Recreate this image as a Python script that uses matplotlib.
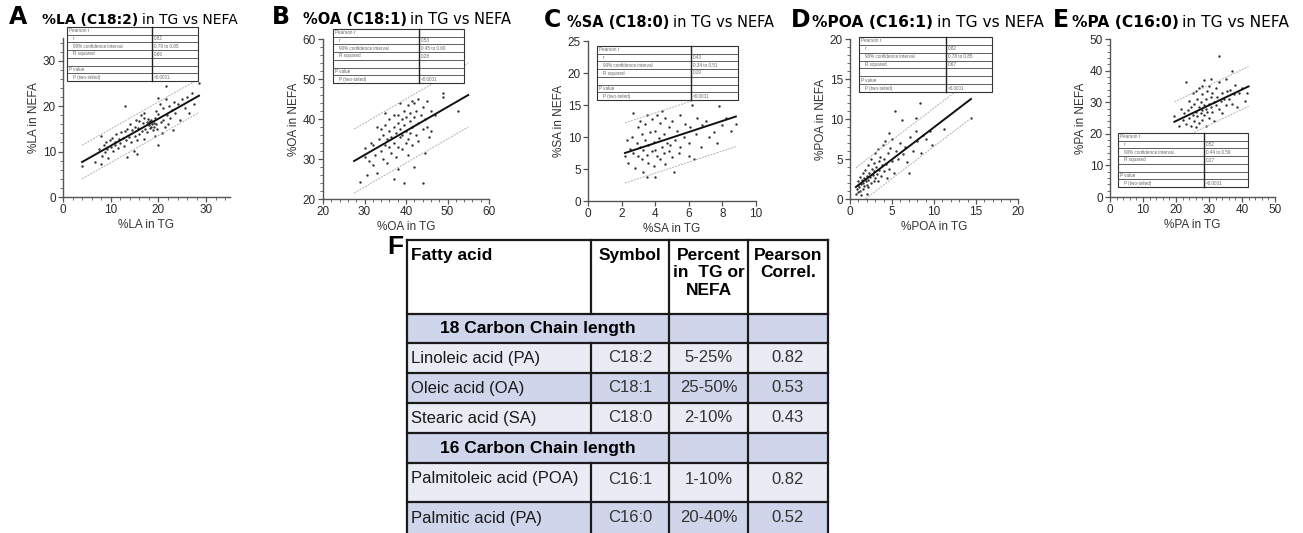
import matplotlib.pyplot as plt
from matplotlib.patches import Rectangle
from matplotlib.ticker import MultipleLocator

plt.rcParams['font.family'] = ['Liberation Sans', 'DejaVu Sans']

# ---- panel A : linoleic acid (approximate)
la_x = [4.0, 6.8, 7.5, 8.0, 8.2, 8.5, 8.8, 9.0, 9.2, 9.5, 9.8, 10.0, 10.3, 10.5, 10.8, 11.0,
        11.2, 11.5, 11.8, 12.0, 12.2, 12.5, 12.8, 13.0, 13.2, 13.5, 13.5, 13.8, 14.0, 14.2,
        14.5, 14.8, 15.0, 15.0, 15.3, 15.5, 15.8, 16.0, 16.0, 16.3, 16.5, 16.8, 17.0, 17.0,
        17.2, 17.5, 17.5, 17.8, 18.0, 18.0, 18.2, 18.3, 18.5, 18.5, 18.7, 18.8, 19.0, 19.0,
        19.2, 19.3, 19.5, 19.5, 19.8, 20.0, 20.0, 20.3, 20.5, 20.8, 21.0, 21.0, 21.3, 21.5,
        21.8, 22.0, 22.3, 22.5, 22.8, 23.0, 23.3, 23.5, 24.0, 24.5, 25.0, 25.5, 26.0, 26.5,
        27.0, 27.5, 28.5, 13.0, 21.5, 20.0, 8.0, 15.5, 17.0]
la_y = [6.8, 7.8, 10.5, 13.5, 9.0, 11.5, 9.8, 12.0, 10.5, 8.5, 12.5, 11.0, 13.0, 10.2, 12.2, 11.5,
        13.8, 10.8, 12.8, 11.8, 14.2, 13.0, 11.2, 14.5, 12.5, 8.8, 15.0, 13.2, 16.0, 12.0,
        14.8, 10.2, 15.5, 13.5, 17.0, 12.5, 15.2, 16.8, 13.8, 18.0, 14.5, 16.2, 17.5, 12.8,
        15.0, 16.5, 14.2, 17.2, 15.8, 16.5, 15.2, 16.8, 15.5, 17.0, 16.0, 14.8, 15.5, 16.2,
        17.5, 13.5, 16.0, 19.0, 15.0, 18.2, 11.5, 20.5, 16.5, 14.0, 19.5, 17.0, 15.5, 21.5,
        18.0, 16.0, 20.0, 17.5, 19.2, 14.8, 21.0, 18.5, 20.5, 17.0, 21.5, 19.5, 22.0, 18.5,
        23.0, 20.5, 25.2, 20.0, 24.5, 21.8, 7.2, 9.5, 18.5]
la_fit_x = [4.0, 28.5]
la_fit_y = [7.7, 22.3]
la_band = 3.7
la_stats = ['0.82', '0.79 to 0.85', '0.66', '<0.0001']

# ---- panel B : oleic acid
oa_pts = [(28.8, 24.2), (30.2, 32.8), (30.5, 26.0), (31.0, 29.5), (31.5, 34.0), (32.0, 28.5),
          (32.0, 33.5), (32.5, 31.0), (33.0, 38.0), (33.0, 26.5), (33.5, 35.0), (34.0, 32.0),
          (34.0, 37.5), (34.5, 30.0), (34.5, 36.0), (35.0, 33.5), (35.0, 38.5), (35.5, 35.0),
          (35.5, 29.0), (36.0, 37.0), (36.0, 33.0), (36.0, 40.0), (36.5, 31.5), (36.5, 35.5),
          (37.0, 41.0), (37.0, 25.0), (37.0, 34.0), (37.0, 38.0), (37.5, 36.5), (37.5, 30.5),
          (38.0, 39.0), (38.0, 33.0), (38.0, 27.5), (38.0, 41.0), (38.5, 35.5), (38.5, 37.5),
          (39.0, 40.0), (39.0, 32.5), (39.0, 36.0), (39.5, 42.0), (39.5, 24.0), (39.5, 38.5),
          (40.0, 34.0), (40.0, 40.5), (40.0, 37.0), (40.5, 43.5), (40.5, 35.0), (40.5, 31.0),
          (41.0, 39.5), (41.0, 36.5), (41.0, 41.5), (41.5, 33.5), (41.5, 38.0), (42.0, 40.5),
          (42.0, 44.0), (42.0, 28.0), (42.5, 36.0), (42.5, 42.0), (43.0, 39.0), (43.0, 34.5),
          (43.0, 45.0), (43.5, 41.0), (44.0, 24.0), (44.0, 37.5), (44.0, 43.0), (44.5, 31.5),
          (44.5, 40.0), (45.0, 38.0), (45.0, 44.5), (45.5, 35.5), (46.0, 42.0), (46.0, 37.0),
          (47.0, 41.0), (49.0, 46.5), (49.0, 45.5), (52.5, 42.0), (35.0, 41.5), (41.5, 44.5),
          (38.5, 44.0), (30.0, 30.5)]
oa_fit_x = [27.5, 55.0]
oa_fit_y = [29.5, 46.0]
oa_band = 8.0
oa_stats = ['0.53', '0.45 to 0.60', '0.28', '<0.0001']

# ---- panel C : stearic acid
sa_pts = [(2.2, 7.0), (2.3, 9.5), (2.4, 6.0), (2.5, 8.2), (2.6, 10.0), (2.7, 13.8), (2.7, 7.5),
          (2.8, 5.2), (2.9, 9.0), (3.0, 11.5), (3.0, 7.0), (3.1, 8.5), (3.2, 6.5), (3.2, 10.5),
          (3.3, 4.5), (3.3, 8.0), (3.4, 12.0), (3.4, 9.5), (3.5, 7.2), (3.5, 3.8), (3.5, 13.5),
          (3.6, 8.8), (3.6, 6.0), (3.7, 10.8), (3.8, 7.8), (3.8, 12.8), (3.9, 9.2), (3.9, 5.5),
          (4.0, 8.0), (4.0, 3.8), (4.0, 11.0), (4.1, 13.5), (4.1, 7.0), (4.2, 9.8), (4.3, 6.5),
          (4.3, 12.2), (4.4, 8.5), (4.5, 10.5), (4.5, 7.5), (4.6, 13.0), (4.6, 5.8), (4.7, 9.0),
          (4.8, 11.5), (4.8, 7.8), (4.9, 8.8), (5.0, 12.5), (5.0, 6.8), (5.1, 4.5), (5.1, 16.0),
          (5.2, 9.5), (5.3, 11.0), (5.4, 7.5), (5.5, 13.5), (5.5, 8.5), (5.7, 10.0), (5.8, 12.0),
          (6.0, 9.0), (6.0, 7.0), (6.1, 11.5), (6.2, 15.0), (6.3, 6.6), (6.4, 10.5), (6.5, 13.0),
          (6.7, 8.5), (6.8, 11.8), (7.0, 12.5), (7.2, 10.0), (7.5, 10.8), (7.7, 9.0), (7.8, 14.8),
          (8.0, 11.8), (8.5, 11.0), (8.8, 12.0), (8.2, 13.0), (4.4, 14.0), (3.1, 12.5)]
sa_fit_x = [2.2, 8.8]
sa_fit_y = [7.5, 13.2]
sa_band = 4.7
sa_stats = ['0.43', '0.34 to 0.51', '0.19', '<0.0001']

# ---- panel D : palmitoleic acid
poa_pts = [(0.7, 0.6), (0.8, 1.2), (0.9, 1.8), (1.0, 0.9), (1.0, 2.2), (1.1, 1.5), (1.2, 2.8),
           (1.2, 1.0), (1.3, 1.9), (1.4, 2.4), (1.5, 1.3), (1.5, 3.2), (1.6, 2.0), (1.7, 2.6),
           (1.7, 1.6), (1.8, 3.6), (1.9, 2.2), (2.0, 1.8), (2.0, 2.9), (2.1, 4.2), (2.2, 2.4),
           (2.2, 1.5), (2.3, 3.3), (2.4, 2.7), (2.5, 5.0), (2.5, 2.0), (2.6, 3.8), (2.7, 3.0),
           (2.8, 2.3), (2.8, 4.5), (2.9, 3.5), (3.0, 2.6), (3.0, 5.8), (3.1, 4.0), (3.2, 3.1),
           (3.3, 6.2), (3.3, 2.2), (3.4, 4.7), (3.5, 3.6), (3.6, 5.3), (3.7, 2.9), (3.8, 4.2),
           (3.9, 6.8), (4.0, 3.5), (4.0, 5.0), (4.2, 7.2), (4.3, 4.4), (4.4, 2.6), (4.5, 5.7),
           (4.6, 3.8), (4.8, 6.4), (5.0, 4.8), (5.0, 7.5), (5.2, 3.2), (5.3, 11.0), (5.5, 6.0),
           (5.7, 5.0), (6.0, 7.0), (6.2, 9.9), (6.3, 5.6), (6.5, 6.5), (6.8, 4.6), (7.0, 3.3),
           (7.2, 7.8), (7.5, 6.0), (7.8, 8.5), (7.9, 10.1), (8.0, 7.2), (8.3, 12.0), (8.5, 5.8),
           (8.7, 8.0), (9.0, 7.5), (9.5, 8.5), (9.8, 6.8), (11.2, 8.8), (14.4, 10.1), (2.0, 0.6),
           (1.3, 0.5), (4.7, 8.2)]
poa_fit_x = [0.7, 14.4]
poa_fit_y = [1.5, 12.5]
poa_band = 2.4
poa_stats = ['0.82', '0.78 to 0.85', '0.67', '<0.0001']

# ---- panel E : palmitic acid
pa_pts = [(19.5, 25.5), (21.0, 22.5), (21.5, 28.0), (22.0, 24.5), (22.5, 26.5), (23.0, 36.5),
          (23.0, 23.0), (23.5, 27.5), (24.0, 25.0), (24.0, 30.5), (24.5, 22.5), (24.5, 28.5),
          (25.0, 26.0), (25.0, 33.0), (25.5, 24.0), (25.5, 29.5), (26.0, 27.0), (26.0, 22.0),
          (26.5, 31.0), (26.5, 25.5), (27.0, 28.5), (27.0, 34.5), (27.0, 23.5), (27.5, 26.5),
          (27.5, 30.0), (28.0, 27.5), (28.0, 24.5), (28.0, 32.5), (28.5, 29.0), (28.5, 26.0),
          (28.5, 37.0), (29.0, 28.0), (29.0, 22.5), (29.0, 31.0), (29.5, 27.0), (29.5, 33.5),
          (30.0, 29.5), (30.0, 25.0), (30.0, 35.0), (30.5, 28.5), (30.5, 31.5), (31.0, 27.0),
          (31.0, 33.0), (31.5, 30.0), (31.5, 24.0), (32.0, 29.0), (32.0, 34.5), (32.5, 31.5),
          (33.0, 44.5), (33.0, 28.0), (33.0, 36.5), (33.5, 30.5), (34.0, 33.0), (34.0, 26.5),
          (34.5, 31.0), (35.0, 37.5), (35.0, 29.0), (35.5, 33.5), (36.0, 31.0), (36.5, 34.0),
          (37.0, 40.0), (37.0, 29.5), (37.5, 32.5), (38.0, 35.5), (38.5, 28.5), (39.0, 33.0),
          (40.0, 34.5), (41.0, 30.5), (41.5, 33.0), (28.0, 35.0), (26.0, 33.5), (30.5, 37.5)]
pa_fit_x = [19.5, 42.0]
pa_fit_y = [23.8, 35.0]
pa_band = 6.3
pa_stats = ['0.52', '0.44 to 0.59', '0.27', '<0.0001']

# ---- panel F table
fa_names = ['Linoleic acid (PA)', 'Oleic acid (OA)', 'Stearic acid (SA)',
            'Palmitoleic acid (POA)', 'Palmitic acid (PA)']
fa_symbols = ['C18:2', 'C18:1', 'C18:0', 'C16:1', 'C16:0']
fa_percent = ['5-25%', '25-50%', '2-10%', '1-10%', '20-40%']
fa_pearson = ['0.82', '0.53', '0.43', '0.82', '0.52']
section_titles = ['18 Carbon Chain length', '16 Carbon Chain length']
header = ['Fatty acid', 'Symbol', 'Percent\nin  TG or\nNEFA', 'Pearson\nCorrel.']

W, H = 1303, 533
fig = plt.figure(figsize=(W / 100, H / 100), dpi=100)


def px_axes(l, t, r, b, **kw):
    return fig.add_axes([l / W, 1 - b / H, (r - l) / W, (b - t) / H], **kw)


over = px_axes(0, 0, W, H, zorder=10)
over.set_xlim(0, W)
over.set_ylim(H, 0)
over.axis('off')

panels = [
    ('A', '%LA (C18:2)', '%LA', la_x, la_y, la_fit_x, la_fit_y, la_band, la_stats,
     (63, 38, 230, 197), (0, 35, 0, 35), 10, 2, (67, 27, 198, 81, 152), (9, 42, 24, 10.0)),
    ('B', '%OA (C18:1)', '%OA', [p[0] for p in oa_pts], [p[1] for p in oa_pts], oa_fit_x, oa_fit_y,
     oa_band, oa_stats, (323, 39, 489, 199), (20, 60, 20, 60), 10, 2, (333, 29, 464, 83, 419),
     (272, 303, 24, 10.5)),
    ('C', '%SA (C18:0)', '%SA', [p[0] for p in sa_pts], [p[1] for p in sa_pts], sa_fit_x, sa_fit_y,
     sa_band, sa_stats, (588, 41, 756, 201), (0, 10, 0, 25), None, None, (597, 46, 738, 100, 691),
     (544, 567, 27, 10.5)),
    ('D', '%POA (C16:1)', '%POA', [p[0] for p in poa_pts], [p[1] for p in poa_pts], poa_fit_x,
     poa_fit_y, poa_band, poa_stats, (850, 39, 1018, 199), (0, 20, 0, 20), 5, 1,
     (859, 37, 992, 92, 946), (791, 812, 27, 11.2)),
    ('E', '%PA (C16:0)', '%PA', [p[0] for p in pa_pts], [p[1] for p in pa_pts], pa_fit_x, pa_fit_y,
     pa_band, pa_stats, (1110, 39, 1275, 197), (0, 50, 0, 50), 10, 2, (1118, 133, 1248, 187, 1204),
     (1053, 1072, 27, 11.2)),
]

yticks = {'A': [0, 10, 20, 30], 'B': [20, 30, 40, 50, 60], 'C': [0, 5, 10, 15, 20, 25],
          'D': [0, 5, 10, 15, 20], 'E': [0, 10, 20, 30, 40, 50]}
xticks = {'A': [0, 10, 20, 30], 'B': [20, 30, 40, 50, 60], 'C': [0, 2, 4, 6, 8, 10],
          'D': [0, 5, 10, 15, 20], 'E': [0, 10, 20, 30, 40, 50]}

renderer = fig.canvas.get_renderer()

for (letter, bold, short, xs, ys, fx, fy, band, stats, box, lim, major, minor, inset,
     tpos) in panels:
    ax = px_axes(*box)
    ax.scatter(xs, ys, s=3, color='#333333', linewidths=0)
    ax.plot(fx, fy, color='#111111', lw=1.4)
    ax.plot(fx, [v + band for v in fy], color='#b0b0b0', lw=0.7, ls=(0, (2, 1.2)))
    ax.plot(fx, [v - band for v in fy], color='#b0b0b0', lw=0.7, ls=(0, (2, 1.2)))
    ax.set_xlim(lim[0], lim[1])
    ax.set_ylim(lim[2], lim[3])
    ax.set_xticks(xticks[letter])
    ax.set_yticks(yticks[letter])
    if minor:
        ax.xaxis.set_minor_locator(MultipleLocator(minor))
        ax.yaxis.set_minor_locator(MultipleLocator(minor))
    for s in ('top', 'right'):
        ax.spines[s].set_visible(False)
    for s in ('left', 'bottom'):
        ax.spines[s].set_color('#555555')
        ax.spines[s].set_linewidth(1.0)
    ax.tick_params(which='major', length=3.5, width=0.9, color='#555555', labelsize=8.5,
                   labelcolor='#2a2a2a', pad=1.5)
    ax.tick_params(which='minor', length=2, width=0.6, color='#555555')
    ax.set_xlabel(short + ' in TG', fontsize=8.5, color='#333333', labelpad=2)
    ax.set_ylabel(short + ' in NEFA', fontsize=8.5, color='#333333', labelpad=2)
    ax.patch.set_alpha(0)

    # inset results table
    l, t, r, b, div = inset
    rows = [('Pearson r', ''), ('r', stats[0]), ('90% confidence interval', stats[1]),
            ('R squared', stats[2]), ('', ''), ('P value', ''), ('P (two-tailed)', stats[3])]
    over.add_patch(Rectangle((l, t), r - l, b - t, fc='white', ec='#333333', lw=0.8))
    rh = (b - t) / len(rows)
    for i, (lab, val) in enumerate(rows):
        yy = t + rh * i
        if i:
            over.plot([l, r], [yy, yy], color='#444444', lw=0.6)
        indent = 0 if lab in ('Pearson r', 'P value', '') else 4
        over.text(l + 2 + indent, yy + rh / 2, lab, fontsize=3.3, va='center', color='#666666')
        over.text(div + 2, yy + rh / 2, val, fontsize=3.3, va='center', color='#666666')
    over.plot([div, div], [t, b], color='#222222', lw=1.0)

    # title: big letter, bold part, plain part
    lx, tx, base, tsize = tpos
    over.text(lx, base, letter, fontsize=17, fontweight='bold', va='baseline',
              family='DejaVu Sans')
    tb = over.text(tx, base, bold, fontsize=tsize, fontweight='bold', va='baseline',
                   family='DejaVu Sans')
    ext = tb.get_window_extent(renderer)
    over.text(ext.x1 + 3.5, base, 'in TG vs NEFA', fontsize=tsize, va='baseline',
              family='DejaVu Sans')

# ---- table F
over.text(387, 254, 'F', fontsize=19, fontweight='bold', va='baseline')
col_edges = [407, 591, 669, 748, 828]
row_edges = [240, 314, 343, 373, 403, 433, 463, 502, 541]
light, dark = '#e9ebf5', '#cfd5ea'

# header
for c in range(4):
    over.add_patch(Rectangle((col_edges[c], row_edges[0]), col_edges[c + 1] - col_edges[c],
                             row_edges[1] - row_edges[0], fc='white', ec='none'))
over.text(col_edges[0] + 4, row_edges[0] + 8, header[0], fontsize=12.5, fontweight='bold',
          va='top', ha='left')
for c in range(1, 4):
    over.text((col_edges[c] + col_edges[c + 1]) / 2, row_edges[0] + 8, header[c], fontsize=12.5,
              fontweight='bold', va='top', ha='center', linespacing=1.2)

body_rows = [('section', 0), ('fa', 0), ('fa', 1), ('fa', 2), ('section', 1), ('fa', 3), ('fa', 4)]
body_colors = [dark, light, dark, light, dark, light, dark]
for k, ((kind, idx), col) in enumerate(zip(body_rows, body_colors)):
    top, bot = row_edges[k + 1], row_edges[k + 2]
    mid = (top + bot) / 2
    if kind == 'fa' and k >= 5:
        mid = top + 16
    over.add_patch(Rectangle((col_edges[0], top), col_edges[4] - col_edges[0], bot - top,
                             fc=col, ec='none'))
    if kind == 'section':
        over.text((col_edges[0] + col_edges[2]) / 2, mid, section_titles[idx], fontsize=12.5,
                  fontweight='bold', ha='center', va='center')
    else:
        over.text(col_edges[0] + 4, mid, fa_names[idx], fontsize=12, ha='left', va='center',
                  color='#1a1a1a')
        for c, vals in zip((1, 2, 3), (fa_symbols, fa_percent, fa_pearson)):
            over.text((col_edges[c] + col_edges[c + 1]) / 2, mid, vals[idx], fontsize=12,
                      ha='center', va='center', color='#333333')

# grid lines
for k, y in enumerate(row_edges):
    over.plot([col_edges[0], col_edges[4]], [y, y], color='#1a1a1a', lw=1.6,
              solid_capstyle='projecting')
for c, x in enumerate(col_edges):
    if c == 1:
        # symbol column border is interrupted by the merged section rows
        segs = [(row_edges[0], row_edges[1]), (row_edges[2], row_edges[5]),
                (row_edges[6], row_edges[8])]
    else:
        segs = [(row_edges[0], row_edges[8])]
    for y0, y1 in segs:
        over.plot([x, x], [y0, y1], color='#1a1a1a', lw=1.6)

fig.savefig('out.png', dpi=100)
